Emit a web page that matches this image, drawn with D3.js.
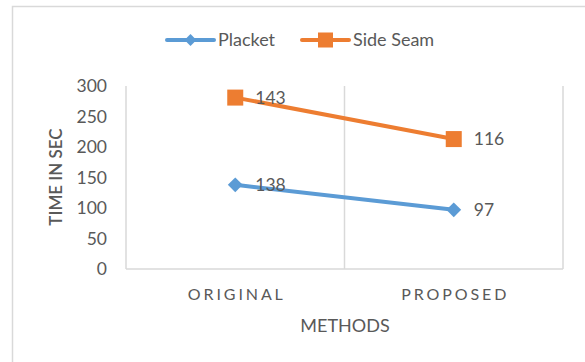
<!DOCTYPE html>
<html><head><meta charset="utf-8">
<script src="https://cdn.jsdelivr.net/npm/d3@7"></script>
<style>
body{margin:0;background:#fff;}
svg{display:block;font-family:Lato,"Open Sans",sans-serif;}
</style></head>
<body><svg id="c" width="585" height="362"></svg>
<script>
const categories = ["ORIGINAL", "PROPOSED"];
const seriesNames = ["Placket", "Side Seam"];
const placket = [138, 97];
const sideSeam = [143, 116];
const yTicks = [0, 50, 100, 150, 200, 250, 300];
const colors = ["#5B9BD5", "#ED7D31"];

(function(){
const FONT = "Lato,'Open Sans',sans-serif";
const TXT = "#595959";
const svg = d3.select("#c");
// outer chart frame
svg.append("rect").attr("x", 12.5).attr("y", 6.5).attr("width", 600).attr("height", 400)
  .attr("fill", "#fff").attr("stroke", "#D9D9D9").attr("stroke-width", 1.5);

const pL = 126, pR = 563, pT = 86, pB = 269;
const x = d3.scaleBand().domain(categories).range([pL, pR]);
const y = d3.scaleLinear().domain([0, 300]).range([pB, pT]);

// stacked values
const stacked = [placket.map(v => v), placket.map((v, i) => v + sideSeam[i])];
const raw = [placket, sideSeam];

// vertical category boundaries
const bounds = [pL, pL + x.bandwidth(), pR];
bounds.forEach(b => {
  svg.append("line").attr("x1", b).attr("x2", b).attr("y1", pT).attr("y2", pB)
    .attr("stroke", "#D9D9D9").attr("stroke-width", 1.5);
});
svg.append("line").attr("x1", pL).attr("x2", pR).attr("y1", pB).attr("y2", pB)
  .attr("stroke", "#D9D9D9").attr("stroke-width", 1.5);

// y axis labels
const yAxis = d3.axisLeft(y).tickValues(yTicks).tickSize(0).tickPadding(19);
const gy = svg.append("g").attr("transform", `translate(${pL},0)`).call(yAxis);
gy.select(".domain").remove();
gy.selectAll("text").attr("fill", TXT).style("font-size", "17.5px").style("font-family", FONT);

// x axis labels
const xAxis = d3.axisBottom(x).tickSize(0);
const gx = svg.append("g").attr("transform", `translate(0,${pB})`).call(xAxis);
gx.select(".domain").remove();
gx.selectAll("text").attr("fill", TXT).attr("y", 31).attr("dy", 0).attr("dx", 1.5)
  .style("font-size", "16px").style("letter-spacing", "2.9px").style("font-family", FONT);

// axis titles
svg.append("text").attr("x", 345).attr("y", 332).attr("text-anchor", "middle")
  .attr("fill", TXT).style("font-size", "18px").text("METHODS");
svg.append("text").attr("transform", "translate(62,177) rotate(-90)").attr("text-anchor", "middle")
  .attr("fill", TXT).style("font-size", "17px").style("font-weight", "600").text("TIME IN SEC");

const cx = c => x(c) + x.bandwidth() / 2;
const line = d3.line().x((d, i) => cx(categories[i])).y(d => y(d));

stacked.forEach((s, k) => {
  svg.append("path").datum(s).attr("d", line).attr("fill", "none")
    .attr("stroke", colors[k]).attr("stroke-width", 4).attr("stroke-linecap", "round");
});
// markers
stacked.forEach((s, k) => {
  s.forEach((v, i) => {
    const px = cx(categories[i]), py = y(v);
    if (k === 0) {
      svg.append("path").attr("d", d3.symbol(d3.symbolDiamond2, 140)())
        .attr("transform", `translate(${px},${py})`).attr("fill", colors[k]);
    } else {
      svg.append("rect").attr("x", px - 8).attr("y", py - 8).attr("width", 16).attr("height", 16)
        .attr("fill", colors[k]);
    }
  });
});
// data labels
stacked.forEach((s, k) => {
  s.forEach((v, i) => {
    svg.append("text").attr("x", cx(categories[i]) + 20).attr("y", y(v)).attr("dy", "0.36em")
      .attr("fill", TXT).style("font-size", "17.5px").text(raw[k][i]);
  });
});

// legend
const leg = [{x: 167, name: seriesNames[0]}, {x: 302, name: seriesNames[1]}];
leg.forEach((l, k) => {
  const ly = 40;
  svg.append("line").attr("x1", l.x).attr("x2", l.x + 47).attr("y1", ly).attr("y2", ly)
    .attr("stroke", colors[k]).attr("stroke-width", 4).attr("stroke-linecap", "round");
  if (k === 0) {
    svg.append("path").attr("d", d3.symbol(d3.symbolDiamond2, 90)())
      .attr("transform", `translate(${l.x + 23.5},${ly})`).attr("fill", colors[k]);
  } else {
    svg.append("rect").attr("x", l.x + 23.5 - 7.5).attr("y", ly - 7.5).attr("width", 15).attr("height", 15)
      .attr("fill", colors[k]);
  }
  svg.append("text").attr("x", l.x + 51).attr("y", ly).attr("dy", "0.36em")
    .attr("fill", TXT).style("font-size", "18px").text(l.name);
});
})();
</script></body></html>
